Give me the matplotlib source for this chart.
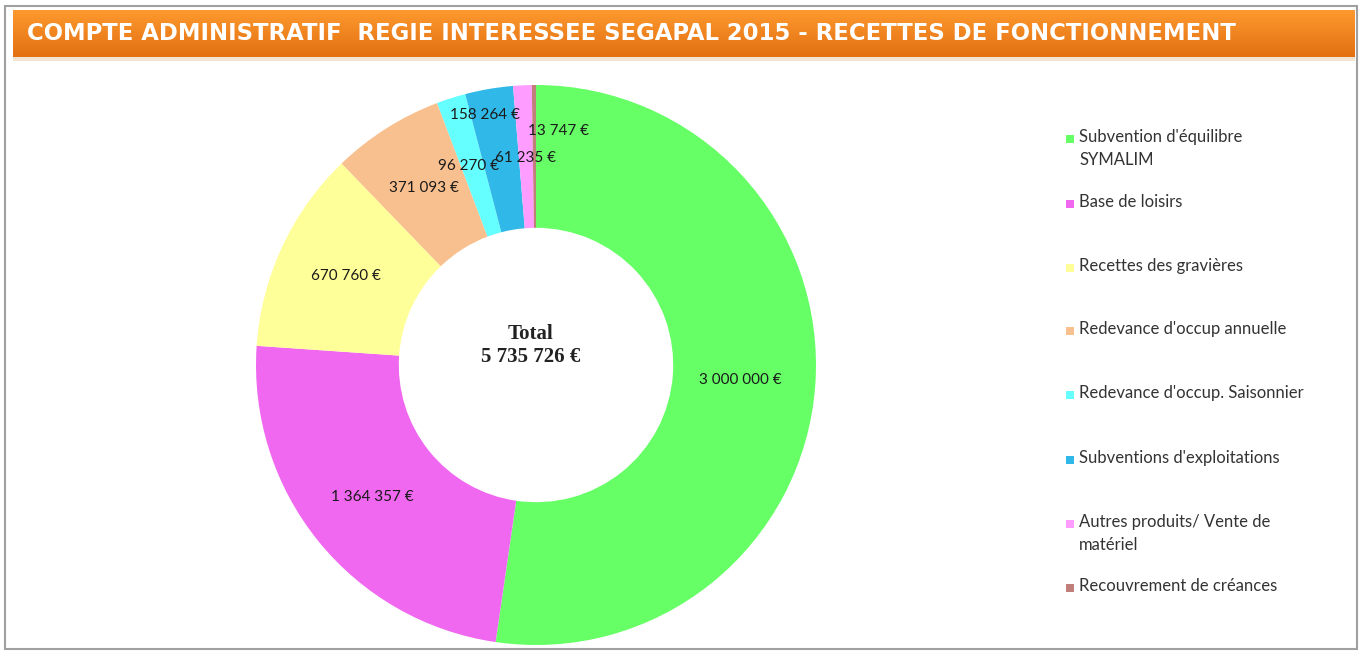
import numpy as np
import matplotlib
matplotlib.use("Agg")
import matplotlib.pyplot as plt
from matplotlib.patches import Rectangle

# Data
categories = ["Subvention d'équilibre\nSYMALIM", "Base de loisirs", "Recettes des gravières",
              "Redevance d'occup annuelle", "Redevance d'occup. Saisonnier",
              "Subventions d'exploitations", "Autres produits/ Vente de\nmatériel",
              "Recouvrement de créances"]
values = [3000000, 1364357, 670760, 371093, 96270, 158264, 61235, 13747]
value_labels = ["3 000 000 €", "1 364 357 €", "670 760 €", "371 093 €",
                "96 270 €", "158 264 €", "61 235 €", "13 747 €"]
colors = ["#66FF66", "#F068F0", "#FFFF99", "#F9C08F", "#66FFFF", "#2FB8E8", "#FF9CFF", "#C07F7A"]
title = "COMPTE ADMINISTRATIF  REGIE INTERESSEE SEGAPAL 2015 - RECETTES DE FONCTIONNEMENT"
total_text = "Total\n5 735 726 €"

W, H = 1365, 653
fig = plt.figure(figsize=(W / 100, H / 100), dpi=100)
fig.patch.set_facecolor("white")

# background axes in pixel coordinates for frame and title bar
bg = fig.add_axes([0, 0, 1, 1])
bg.set_xlim(0, W)
bg.set_ylim(H, 0)
bg.axis("off")
bg.add_patch(Rectangle((5, 6), 1352, 643, fill=False, edgecolor="#A0A0A0", linewidth=1.5))
grad = np.linspace(0, 1, 50)[:, None]
top_c = np.array([0.99, 0.60, 0.18])
bot_c = np.array([0.89, 0.44, 0.07])
img = top_c[None, None, :] * (1 - grad[..., None]) + bot_c[None, None, :] * grad[..., None]
bg.imshow(img, extent=(13, 1355, 57, 10), aspect="auto", zorder=1)
bg.add_patch(Rectangle((13, 57), 1342, 4, color="#F3E3D3", zorder=0, linewidth=0))
bg.text(27, 34, title, color="white", fontsize=16.4, fontweight="bold",
        family="DejaVu Sans", va="center", ha="left", zorder=2)

# donut
cx, cy, r = 536, 365, 280
ax = fig.add_axes([(cx - r) / W, (H - cy - r) / H, 2 * r / W, 2 * r / H])
wedges, _ = ax.pie(values, colors=colors, startangle=90, counterclock=False,
                   radius=1, wedgeprops=dict(width=0.51, linewidth=0))
ax.set_xlim(-1, 1)
ax.set_ylim(-1, 1)
ax.set_aspect("equal")

label_r = [0.73, 0.75, 0.75, 0.75, 0.75, 0.91, 0.74, 0.84]
label_shift = [0, 0, 0, 0, 1, 2, 0, -6]
for w, lab, lr, sh in zip(wedges, value_labels, label_r, label_shift):
    ang = np.deg2rad((w.theta1 + w.theta2) / 2 + sh)
    ax.text(lr * np.cos(ang), lr * np.sin(ang), lab, ha="center", va="center",
            fontsize=11, family="Lato", color="#1a1a1a")

ax.text(-0.02, 0.07, total_text, ha="center", va="center", fontsize=15, fontweight="bold",
        family="Liberation Serif", color="#222222", linespacing=1.15)

# legend
leg_y = [139, 204, 268, 331, 395, 460, 524, 588]
for name, col, y in zip(categories, colors, leg_y):
    bg.add_patch(Rectangle((1066, y - 4), 8, 8, color=col, linewidth=0))
    bg.text(1079, y - 10, name, fontsize=12, family="Lato", color="#333333",
            va="top", ha="left", linespacing=1.55)

fig.savefig("out.png", dpi=100)
